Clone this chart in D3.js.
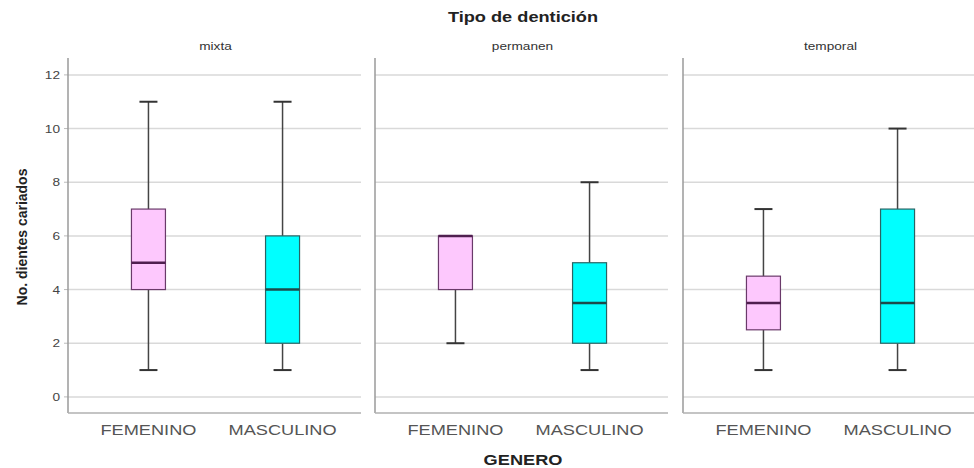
<!DOCTYPE html>
<html>
<head>
<meta charset="utf-8">
<script src="https://cdn.jsdelivr.net/npm/d3@7"></script>
<style>
  html, body { margin: 0; padding: 0; background: #fff; }
  svg { display: block; font-family: Arial, "Liberation Sans", sans-serif; }
</style>
</head>
<body>
<svg id="chart" width="974" height="468"></svg>
<script>
// ---- data ----
const panels = ["mixta", "permanen", "temporal"];
const genders = ["FEMENINO", "MASCULINO"];
const yTicks = [0, 2, 4, 6, 8, 10, 12];
// [min, q1, median, q3, max] per panel, per gender
const femStats = [
  [1, 4, 5, 7, 11],
  [2, 4, 6, 6, 6],
  [1, 2.5, 3.5, 4.5, 7]
];
const mascStats = [
  [1, 2, 4, 6, 11],
  [1, 2, 3.5, 5, 8],
  [1, 2, 3.5, 7, 10]
];
const titleText = "Tipo de dentición";
const yTitle = "No. dientes cariados";
const xTitle = "GENERO";

// ---- layout ----
const svg = d3.select("#chart");
const plotTop = 58, plotBottom = 413;
const panelLefts = [68, 375, 683];
const panelW = 295;
const SX = 1.3; // horizontal stretch of the reference's lettering

const y = d3.scaleLinear().domain([-0.6, 12.63]).range([plotBottom, plotTop]);

const fills = { FEMENINO: "#fdc8fd", MASCULINO: "#00ffff" };
const strokes = { FEMENINO: "#6a3a6a", MASCULINO: "#2a6464" };
const medians = { FEMENINO: "#4f1f4f", MASCULINO: "#1c4a4a" };

function addText(parent, x, yy, txt, size, opts = {}) {
  return parent.append("text")
    .attr("transform", `translate(${x},${yy}) scale(${opts.sx || SX},1)`)
    .attr("text-anchor", opts.anchor || "middle")
    .attr("font-size", size)
    .attr("font-weight", opts.bold ? "bold" : "normal")
    .attr("fill", opts.fill || "#222")
    .text(txt);
}

// title
addText(svg, 523, 22, titleText, 14, { bold: true });

// y title
svg.append("text").attr("transform", "translate(27,237) rotate(-90)")
  .attr("text-anchor", "middle").attr("font-size", 14).attr("font-weight", "bold")
  .attr("fill", "#222").text(yTitle);

// x title
addText(svg, 523, 465, xTitle, 14, { bold: true });

// y tick labels and small tick marks (left of first panel)
const ga = svg.append("g");
yTicks.forEach(t => {
  addText(ga, panelLefts[0] - 8, y(t) + 4, t, 10.5, { anchor: "end", fill: "#444" });
  ga.append("line").attr("x1", panelLefts[0] - 4).attr("x2", panelLefts[0])
    .attr("y1", y(t)).attr("y2", y(t)).attr("stroke", "#bbb").attr("stroke-width", 1);
});

panels.forEach((p, i) => {
  const x0 = panelLefts[i];
  const g = svg.append("g");
  const x = d3.scalePoint().domain(genders).range([x0, x0 + panelW]).padding(0.6);

  // gridlines
  g.selectAll("line.grid").data(yTicks).join("line")
    .attr("x1", x0).attr("x2", x0 + panelW - 2)
    .attr("y1", d => y(d)).attr("y2", d => y(d))
    .attr("stroke", "#d9d9d9").attr("stroke-width", 1.5);

  // frame: left and bottom
  g.append("line").attr("x1", x0).attr("x2", x0).attr("y1", plotTop).attr("y2", plotBottom)
    .attr("stroke", "#9a9a9a").attr("stroke-width", 1.5);
  g.append("line").attr("x1", x0).attr("x2", x0 + panelW - 2).attr("y1", plotBottom).attr("y2", plotBottom)
    .attr("stroke", "#b0b0b0").attr("stroke-width", 1.5);

  // panel label
  addText(g, x0 + panelW / 2, 50, p, 10.5, { fill: "#333" });

  // x labels
  genders.forEach(gn => {
    addText(g, x(gn), 435, gn, 14, { fill: "#555" });
  });

  const boxW = 34, capW = 18;
  const data = [
    { g: "FEMENINO", s: femStats[i] },
    { g: "MASCULINO", s: mascStats[i] }
  ];
  data.forEach(d => {
    const cx = x(d.g);
    const [mn, q1, md, q3, mx] = d.s;
    if (mx > q3) {
      g.append("line").attr("x1", cx).attr("x2", cx).attr("y1", y(q3)).attr("y2", y(mx))
        .attr("stroke", "#444").attr("stroke-width", 1.5);
      g.append("line").attr("x1", cx - capW / 2).attr("x2", cx + capW / 2).attr("y1", y(mx)).attr("y2", y(mx))
        .attr("stroke", "#333").attr("stroke-width", 2);
    }
    if (mn < q1) {
      g.append("line").attr("x1", cx).attr("x2", cx).attr("y1", y(q1)).attr("y2", y(mn))
        .attr("stroke", "#444").attr("stroke-width", 1.5);
      g.append("line").attr("x1", cx - capW / 2).attr("x2", cx + capW / 2).attr("y1", y(mn)).attr("y2", y(mn))
        .attr("stroke", "#333").attr("stroke-width", 2);
    }
    g.append("rect").attr("x", cx - boxW / 2).attr("y", y(q3)).attr("width", boxW)
      .attr("height", y(q1) - y(q3)).attr("fill", fills[d.g])
      .attr("stroke", strokes[d.g]).attr("stroke-width", 1.2);
    g.append("line").attr("x1", cx - boxW / 2).attr("x2", cx + boxW / 2).attr("y1", y(md)).attr("y2", y(md))
      .attr("stroke", medians[d.g]).attr("stroke-width", 2.5);
  });
});
</script>
</body>
</html>
